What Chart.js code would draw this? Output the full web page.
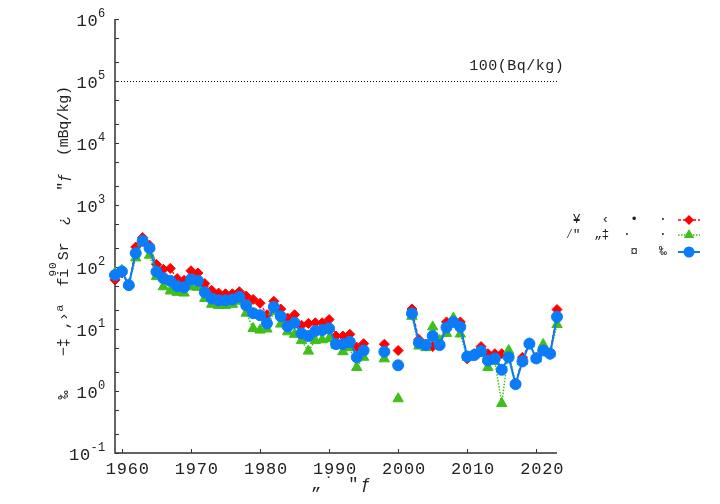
<!DOCTYPE html>
<html>
<head>
<meta charset="utf-8">
<script src="https://cdn.jsdelivr.net/npm/chart.js@4.4.1/dist/chart.umd.min.js"></script>
<style>
  html, body { margin: 0; padding: 0; background: #fff; }
  #wrap { width: 720px; height: 504px; }
</style>
</head>
<body>
<div id="wrap"><canvas id="chart" width="720" height="504"></canvas></div>
<script>
// --- data ---
const years = [1959, 1960, 1961, 1962, 1963, 1964, 1965, 1966, 1967, 1968, 1969,
  1970, 1971, 1972, 1973, 1974, 1975, 1976, 1977, 1978, 1979,
  1980, 1981, 1982, 1983, 1984, 1985, 1986, 1987, 1988, 1989,
  1990, 1991, 1992, 1993, 1994, 1995, 1996, 1997, 1998, 1999,
  2000, 2001, 2002, 2003, 2004, 2005, 2006, 2007, 2008, 2009,
  2010, 2011, 2012, 2013, 2014, 2015, 2016, 2017, 2018, 2019,
  2020, 2021, 2022, 2023];

const redValues = [62, 80, 50, 210, 300, 225, 110, 92, 95, 65, 61,
  87, 80, 54, 42, 38, 37, 37, 40, 34, 30,
  26, 17, 28, 21, 15, 17, 11.5, 12.3, 12.6, 12.6,
  14.2, 7.7, 7.7, 8.2, 5.1, 5.8, null, null, 5.7, null,
  4.5, null, 21, 6.8, 5.7, 5.2, 6, 13, 14, 13,
  3.3, 4, 5.2, 4, 4, 4, 3.7, 1.3, 3.5, 5.8,
  3.5, 4.6, 3.9, 20.6];

const greenValues = [80, 88, 52, 140, 250, 155, 70, 48, 41, 39, 38,
  48, 47, 31, 25, 24, 24, 25, 28, 18, 10.2,
  9.6, 10, 19, 12, 9, 8.2, 6.5, 4.4, 6.5, 6.7,
  7, 5.5, 4.3, 5, 2.4, 3.5, null, null, 3.3, null,
  0.75, null, 16, 5.3, 5, 10.8, 6.5, 8.5, 15, 8.3,
  3.5, 3.8, 4, 2.4, 3, 0.63, 4.5, 1.3, 3, 5.8,
  3.3, 5.6, 4, 11.8];

const blueValues = [74, 85, 51, 167, 264, 201, 84, 66, 60, 49, 47,
  63, 60, 39, 31, 29, 29, 30, 33, 24, 18,
  16.7, 12.3, 22.7, 16, 11, 12.6, 8.5, 7.7, 9.3, 9.6,
  10.2, 5.7, 5.7, 6.2, 3.5, 4.5, null, null, 4.3, null,
  2.6, null, 17.8, 6, 5.5, 7.7, 5.5, 10.6, 13, 10.8,
  3.6, 3.8, 4.4, 3.1, 3.35, 2.2, 3.5, 1.29, 3.0, 5.8,
  3.35, 4.5, 4, 15.7];

const seriesLegend = ['¥   ‹   •   ·', '⁄"  „‡  ·    ·', '¤   ‰'];
const xTickLabels = ['1960', '1970', '1980', '1990', '2000', '2010', '2020'];
const yTickExponents = ['-1', '0', '1', '2', '3', '4', '5', '6'];
const refLevel = 1e5;
const refLabel = '100(Bq/kg)';
const xTitle = '„˙ ″ƒ';
const yTitleA = '‰    −‡ ‚›ª  fi';
const yTitleSup = '90';
const yTitleB = 'Sr  ¿   ″ƒ  (mBq/kg)';

const RED = '#ff0000', GREEN = '#3fbf1a', BLUE = '#0a7cfa';
const FONT = '"Liberation Mono", "DejaVu Sans Mono", monospace';

function series(vals) {
  return years.map((yr, i) => ({ x: yr, y: vals[i] }));
}

// draw a string one glyph at a time with a fixed advance, centred on cx
function spaced(ctx, text, cx, y, adv) {
  const chars = Array.from(text);
  const x0 = cx - (chars.length - 1) * adv / 2;
  chars.forEach((c, i) => { if (c !== ' ') ctx.fillText(c, x0 + i * adv, y); });
}

function marker(ctx, style, x, y, r, color) {
  ctx.fillStyle = color;
  ctx.beginPath();
  if (style === 'rectRot') {
    ctx.moveTo(x, y - r); ctx.lineTo(x + r, y); ctx.lineTo(x, y + r); ctx.lineTo(x - r, y);
  } else if (style === 'triangle') {
    ctx.moveTo(x, y - r); ctx.lineTo(x + r * 0.866, y + r * 0.5); ctx.lineTo(x - r * 0.866, y + r * 0.5);
  } else {
    ctx.arc(x, y, r, 0, Math.PI * 2);
  }
  ctx.closePath();
  ctx.fill();
}

const frame = {
  id: 'frame',
  beforeDatasetsDraw(chart) {
    const { ctx, chartArea: a, scales: { x, y } } = chart;
    ctx.save();
    // 100 Bq/kg reference line
    const ry = Math.round(y.getPixelForValue(refLevel)) + 0.5;
    ctx.strokeStyle = '#000';
    ctx.lineWidth = 1;
    ctx.setLineDash([1, 2]);
    ctx.beginPath(); ctx.moveTo(a.left, ry); ctx.lineTo(a.right, ry); ctx.stroke();
    ctx.setLineDash([]);

    // axes
    ctx.strokeStyle = '#333';
    ctx.lineWidth = 1.5;
    ctx.beginPath();
    ctx.moveTo(a.left, a.top); ctx.lineTo(a.left, a.bottom); ctx.lineTo(a.right, a.bottom);
    ctx.stroke();

    // inward ticks
    ctx.lineWidth = 1;
    ctx.beginPath();
    xTickLabels.forEach(t => {
      const px = Math.round(x.getPixelForValue(+t)) + 0.5;
      ctx.moveTo(px, a.bottom); ctx.lineTo(px, a.bottom - 4);
    });
    yTickExponents.forEach(e => {
      [1, 2, 5].forEach(m => {
        const v = m * Math.pow(10, +e);
        if (v > 1e6) return;
        const py = Math.round(y.getPixelForValue(v)) + 0.5;
        ctx.moveTo(a.left, py); ctx.lineTo(a.left + 4, py);
      });
    });
    ctx.stroke();
    ctx.restore();
  },
  afterDraw(chart) {
    const { ctx, chartArea: a, scales: { x, y } } = chart;
    ctx.save();
    ctx.fillStyle = '#222';
    ctx.textAlign = 'center';
    ctx.textBaseline = 'middle';

    // x tick labels
    ctx.font = '17px ' + FONT;
    xTickLabels.forEach(t => {
      spaced(ctx, t, x.getPixelForValue(+t) + 5.5, 469, 11);
    });

    // y tick labels 10^n
    yTickExponents.forEach(e => {
      const py = y.getPixelForValue(Math.pow(10, +e));
      const ex = Array.from(e);
      const expStart = 101.5 - (ex.length - 1) * 7.5;
      ctx.font = '12px ' + FONT;
      ex.forEach((c, i) => ctx.fillText(c, expStart + i * 7.5, py - 5));
      ctx.font = '17px ' + FONT;
      ctx.fillText('0', expStart - 9, py + 2);
      ctx.fillText('1', expStart - 20, py + 2);
    });

    // reference label
    ctx.font = '15px ' + FONT;
    spaced(ctx, refLabel, 563 - (refLabel.length * 9.5) / 2 + 1, 66, 9.5);

    // x title
    ctx.font = '17px ' + FONT;
    ctx.textBaseline = 'alphabetic';
    spaced(ctx, xTitle, 341, 489, 12.4);

    // y title (rotated)
    ctx.translate(64, 395);
    ctx.rotate(-Math.PI / 2);
    ctx.textBaseline = 'middle';
    const adv = 8.7;
    ctx.font = '15px ' + FONT;
    Array.from(yTitleA).forEach((c, i) => { if (c !== ' ') ctx.fillText(c, i * adv, 0); });
    ctx.font = '11px ' + FONT;
    Array.from(yTitleSup).forEach((c, i) => ctx.fillText(c, (14 + i * 0.85) * adv, -11));
    ctx.font = '15px ' + FONT;
    Array.from(yTitleB).forEach((c, i) => { if (c !== ' ') ctx.fillText(c, (16 + i) * adv, 0); });
    ctx.setTransform(1, 0, 0, 1, 0, 0);
    const dpr = chart.currentDevicePixelRatio || 1;
    ctx.scale(dpr, dpr);

    // legend
    const rows = [
      { y: 220, color: RED, dash: [3, 2], style: 'rectRot', r: 5 },
      { y: 235, color: GREEN, dash: [1.5, 1.5], style: 'triangle', r: 6 },
      { y: 252, color: BLUE, dash: [], style: 'circle', r: 5.5 }
    ];
    rows.forEach((row, k) => {
      ctx.fillStyle = '#222';
      ctx.font = '13px ' + FONT;
      ctx.textBaseline = 'middle';
      const chars = Array.from(seriesLegend[k]);
      chars.forEach((c, i) => {
        if (c !== ' ') ctx.fillText(c, 663 - (chars.length - 1 - i) * 7.2, row.y);
      });
      ctx.strokeStyle = row.color;
      ctx.lineWidth = k === 2 ? 2 : 1.5;
      ctx.setLineDash(row.dash);
      ctx.beginPath(); ctx.moveTo(678, row.y); ctx.lineTo(700, row.y); ctx.stroke();
      ctx.setLineDash([]);
      marker(ctx, row.style, 689, row.y, row.r, row.color);
    });
    ctx.restore();
  }
};

new Chart(document.getElementById('chart'), {
  type: 'line',
  data: {
    datasets: [
      {
        label: 'red', data: series(redValues), order: 3, clip: false,
        borderColor: RED, backgroundColor: RED, borderWidth: 1.2, borderDash: [3, 2],
        pointStyle: 'rectRot', pointRadius: 5, pointBorderWidth: 1,
        pointBackgroundColor: RED, pointBorderColor: RED, tension: 0, spanGaps: false
      },
      {
        label: 'green', data: series(greenValues), order: 2, clip: false,
        borderColor: GREEN, backgroundColor: GREEN, borderWidth: 1.5, borderDash: [1.5, 1.5],
        pointStyle: 'triangle', pointRadius: 6, pointBorderWidth: 1,
        pointBackgroundColor: GREEN, pointBorderColor: GREEN, tension: 0, spanGaps: false
      },
      {
        label: 'blue', data: series(blueValues), order: 1, clip: false,
        borderColor: BLUE, backgroundColor: BLUE, borderWidth: 2,
        pointStyle: 'circle', pointRadius: 5.5, pointBorderWidth: 1,
        pointBackgroundColor: BLUE, pointBorderColor: BLUE, tension: 0, spanGaps: false
      }
    ]
  },
  options: {
    responsive: false,
    animation: false,
    layout: { padding: { left: 115, right: 163, top: 19, bottom: 51 } },
    scales: {
      x: { type: 'linear', min: 1959, max: 2023, display: false },
      y: { type: 'logarithmic', min: 0.1, max: 1e6, display: false }
    },
    plugins: { legend: { display: false }, tooltip: { enabled: false } }
  },
  plugins: [frame]
});
</script>
</body>
</html>
